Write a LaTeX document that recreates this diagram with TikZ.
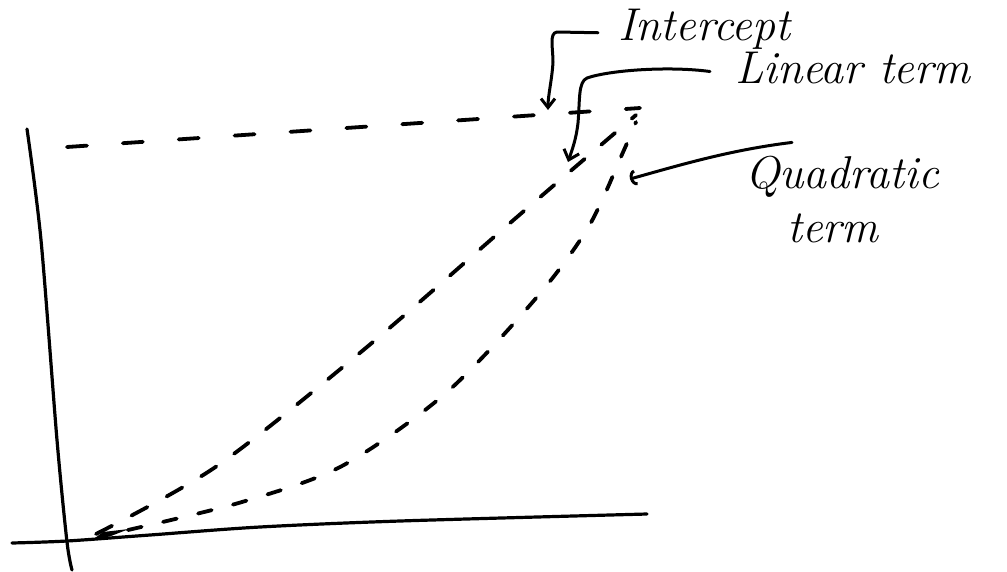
\documentclass[tikz,border=0pt]{standalone}
\usetikzlibrary{arrows.meta}
\tikzset{
  axisline/.style={line width=3.2pt, line cap=round, line join=round},
  dsh/.style={line width=3.8pt, line cap=round},
  pen/.style={line width=3pt, line cap=round, line join=round},
  lbl/.style={font=\fontsize{46}{50}\selectfont\itshape, inner sep=0pt, anchor=base west},
}
\begin{document}
\begin{tikzpicture}[x=1pt,y=-1pt]
\useasboundingbox (0,0) rectangle (1007,571);
% axes
\draw[axisline] plot[smooth] coordinates {(27,129) (41,240) (57,440) (67,542) (72,570)};
\draw[axisline] plot[smooth] coordinates {(12,543) (67,541) (150,535) (260,527) (400,521) (647,514)};
\fill (91,541) -- (103,532) -- (129,529) -- (111,536) -- cycle;
% intercept
\draw[dsh, dash pattern=on 20pt off 36pt] (67,147) -- (640,108);
% linear
\draw[dsh, dash pattern=on 18pt off 22pt] plot[smooth] coordinates {(96,534) (217,466) (367,347) (517,217) (636,115)};
% quadratic
\draw[dsh, dash pattern=on 14pt off 22pt] plot[smooth] coordinates {(128,530) (242,502) (342,466) (446,393) (537,297) (589,226) (624,150) (636,122)};
% labels
\node[lbl] (Intercept) at (618,40) {Intercept};
\node[lbl] (Linear) at (735,83) {Linear term};
\node[lbl] (Quadratic) at (745,188) {Quadratic};
\node[lbl] (term) at (787,242) {term};
% connectors
\coordinate (iTip) at (548,110);
\draw[pen, -{Straight Barb[length=9pt,width=14pt]}] ([xshift=-20pt,yshift=-4pt]Intercept.west) .. controls (578,32) .. (557,32) .. controls (549,33) and (553,48) .. (553,62) .. controls (552,80) and (548,95) .. (iTip);
\coordinate (lTip) at (568,162);
\draw[pen, -{Straight Barb[length=9pt,width=16pt]}] ([xshift=-25pt,yshift=-4pt]Linear.west) .. controls (670,66) and (610,70) .. (587,78) .. controls (578,82) and (580,100) .. (578,123) .. controls (576,140) and (572,150) .. (lTip);
\coordinate (qTip) at (630,179);
\draw[pen, -{Arc Barb[length=6pt,width=16pt]}] ([xshift=47pt,yshift=13pt]Quadratic.north west) .. controls (730,150) and (680,165) .. (qTip);
\end{tikzpicture}
\end{document}
